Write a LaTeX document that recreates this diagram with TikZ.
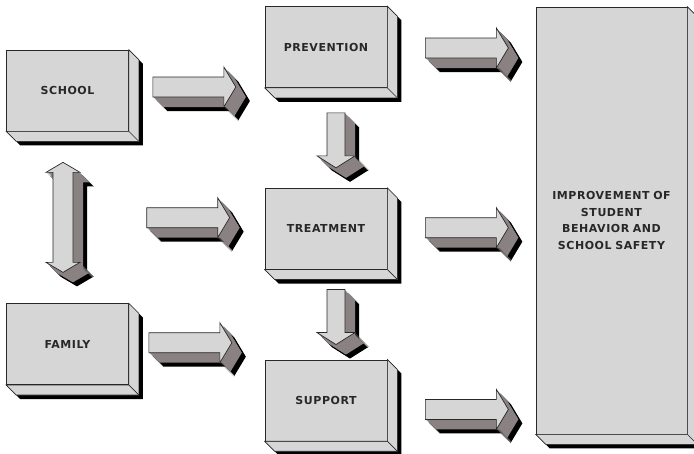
\documentclass[tikz,border=0pt]{standalone}
\usepackage{fontspec}
\usepackage{tikz}
\usetikzlibrary{calc,positioning}

\newfontfamily\labelfont[LetterSpace=5]{DejaVu Sans}

\definecolor{facegray}{RGB}{214,214,214}
\definecolor{sidegray}{RGB}{138,130,130}
\definecolor{edgegray}{RGB}{40,40,40}
\definecolor{textgray}{RGB}{40,40,40}

% solid block: black shadow, dark extrusion, light front face
\newcommand{\solidshape}[1]{%
  \foreach \k in {4,...,14} \fill[black, shift={(\k,\k)}, #1];
  \foreach \k in {1,...,10} \fill[sidegray, shift={(\k,\k)}, #1];
  \draw[face, #1];
}

\tikzset{
  face/.style={fill=facegray, draw=edgegray, line width=0.7pt},
  box/.style={face, minimum width=122pt, minimum height=81pt, inner sep=0pt,
    text=textgray, font=\labelfont\bfseries\fontsize{11}{16.5}\selectfont},
  rshape/.style={insert path={(0,-10) -- (71,-10) -- (71,-20) -- (83,0) -- (71,20) -- (71,10) -- (0,10) -- cycle}},
  dshape/.style={insert path={(-9,0) -- (9,0) -- (9,43) -- (19,43) -- (0,55) -- (-19,43) -- (-9,43) -- cycle}},
  vshape/.style={insert path={(-10,-45) -- (-17,-45) -- (0,-55) -- (17,-45) -- (10,-45) -- (10,45) -- (17,45) -- (0,55) -- (-17,45) -- (-10,45) -- cycle}},
  pics/rarrow/.style={code={\solidshape{rshape}}},
  pics/darrow/.style={code={\solidshape{dshape}}},
  pics/varrow/.style={code={\solidshape{vshape}}}
}

\begin{document}
\begin{tikzpicture}[x=1pt, y=-1pt]
    \useasboundingbox[fill=white] (0,0) rectangle (694,453);

    % boxes
    \node[box] (school) at (67.5,90.5) {SCHOOL};
    \node[box, below=172pt of school] (family) {FAMILY};
    \node[box] (prevention) at (326,47) {PREVENTION};
    \node[box, below=100pt of prevention] (treatment) {TREATMENT};
    \node[box, below=90pt of treatment] (support) {SUPPORT};
    \node[box, minimum width=151pt, minimum height=427pt, text width=145pt, align=center] (goal) at (611.5,220.5)
        {IMPROVEMENT OF\\STUDENT\\BEHAVIOR AND\\SCHOOL SAFETY};

    % 3d sides of the boxes
    \foreach \n in {school,family,prevention,treatment,support,goal} {
        \fill[black] (\n.north east) -- ++(14,14) -- ($(\n.south east)+(14,14)$) -- ($(\n.south west)+(14,14)$) -- (\n.south west) -- (\n.south east) -- cycle;
        \draw[face] (\n.north east) -- ++(10,10) -- ($(\n.south east)+(10,10)$) -- ($(\n.south west)+(10,10)$) -- (\n.south west) -- (\n.south east) -- cycle;
        \draw[face] (\n.south east) -- ++(10,10);
    }

    % block arrows
    \coordinate (a1) at ($(school.east)+(24,-3.5)$);
    \coordinate (a2) at ($(treatment.west)+(-118,-11)$);
    \coordinate (a3) at ($(family.east)+(20,-1.5)$);
    \coordinate (r1) at ($(prevention.east)+(38,1)$);
    \coordinate (r2) at ($(treatment.east)+(38,-1)$);
    \coordinate (r3) at ($(support.east)+(38,9)$);
    \coordinate (d1) at ($(prevention.south)+(10,25)$);
    \coordinate (d2) at ($(treatment.south)+(10,20)$);
    \coordinate (v1) at ($(school.south)!0.5!(family.north)+(-4.5,0)$);

    \foreach \c in {a1,a2,a3,r1,r2,r3} \pic at (\c) {rarrow};
    \foreach \c in {d1,d2} \pic at (\c) {darrow};
    \pic at (v1) {varrow};
\end{tikzpicture}
\end{document}
